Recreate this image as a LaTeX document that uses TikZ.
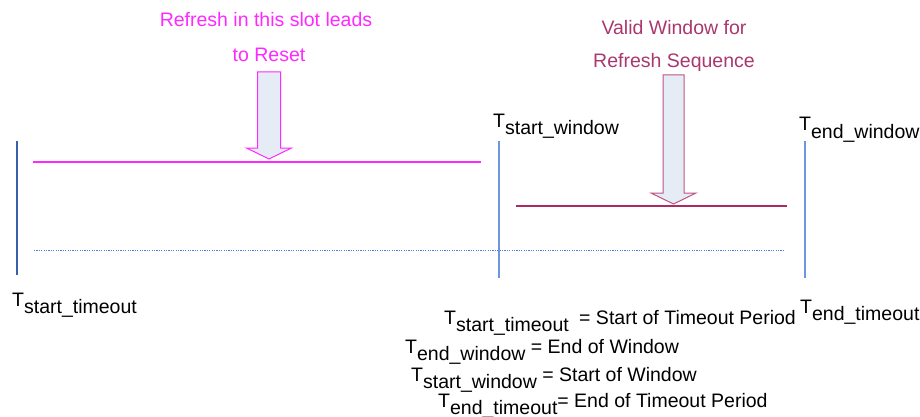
\documentclass[tikz,border=0pt]{standalone}
\usepackage{fontspec}
\setmainfont{Liberation Sans}
\definecolor{pinkline}{RGB}{255,40,255}
\definecolor{wine}{RGB}{172,42,98}
\definecolor{winetext}{RGB}{170,55,110}
\definecolor{bluedark}{RGB}{60,95,170}
\definecolor{bluelight}{RGB}{110,150,220}
\definecolor{bluedot}{RGB}{80,125,215}
\definecolor{arrowfill}{RGB}{230,236,246}
% time label: a capital T followed by a lowered name
\newcommand{\Tmark}[1]{T\raisebox{-7pt}{#1}}
\tikzset{
  lbl/.style={inner sep=0pt, anchor=base west, font=\fontsize{19.5}{22}\selectfont},
  note/.style={inner sep=0pt, anchor=base, font=\fontsize{19.5}{22}\selectfont},
  marker/.style={line width=1.3pt},
  bigarrow/.style={line width=1pt, fill=arrowfill, line join=miter},
}
\begin{document}
\begin{tikzpicture}[x=1pt, y=-1pt]
\useasboundingbox (0,0) rectangle (920,417);

% vertical time markers
\coordinate (st1) at (17,141);  \coordinate (st2) at (17,275);
\coordinate (sw1) at (499,141); \coordinate (sw2) at (499,278);
\coordinate (ew1) at (805,141); \coordinate (ew2) at (805,278);
\draw[marker, bluedark] (st1) -- (st2);
\draw[marker, bluelight] (sw1) -- (sw2);
\draw[marker, bluelight] (ew1) -- (ew2);

% slot lines
\coordinate (r1) at (33,162);  \coordinate (r2) at (481,162);
\coordinate (v1) at (516,206); \coordinate (v2) at (787,206);
\coordinate (d1) at (34,250);  \coordinate (d2) at (785,250);
\draw[line width=1.2pt, pinkline] (r1) -- (r2);
\draw[line width=1.2pt, wine] (v1) -- (v2);
\draw[line width=0.9pt, bluedot, dash pattern=on 1.2pt off 1.2pt] (d1) -- (d2);

% block arrows
\draw[bigarrow, draw=pinkline]
  (257.5,72) -- (280.5,72) -- (280.5,148) -- (291.5,148) -- (269,159)
  -- (246.5,148) -- (257.5,148) -- cycle;
\draw[bigarrow, draw=wine!80]
  (663,75) -- (684,75) -- (684,193) -- (696,193) -- (673.5,204)
  -- (651,193) -- (663,193) -- cycle;

% captions
\node[note, text=pinkline] (c1) at (266,27) {Refresh in this slot leads};
\node[note, text=pinkline] (c2) at (269,62) {to Reset};
\node[note, text=winetext] (c3) at (674,35) {Valid Window for};
\node[note, text=winetext] (c4) at (674,68) {Refresh Sequence};

% marker labels
\node[lbl] (lsw) at (493,128) {\Tmark{start\_window}};
\node[lbl] (lew) at (799,131) {\Tmark{end\_window}};
\node[lbl] (lst) at (12,306) {\Tmark{start\_timeout}};
\node[lbl] (let) at (800,313) {\Tmark{end\_timeout}};

% legend
\node[lbl] (k1) at (444,324) {\Tmark{start\_timeout}};
\node[lbl] (k1t) at (579,324) {= Start of Timeout Period};
\node[lbl] (k2) at (405,353) {\Tmark{end\_window} = End of Window};
\node[lbl] (k3) at (411,381) {\Tmark{start\_window} = Start of Window};
\node[lbl] (k4) at (438,407) {\Tmark{end\_timeout}= End of Timeout Period};
\end{tikzpicture}
\end{document}
